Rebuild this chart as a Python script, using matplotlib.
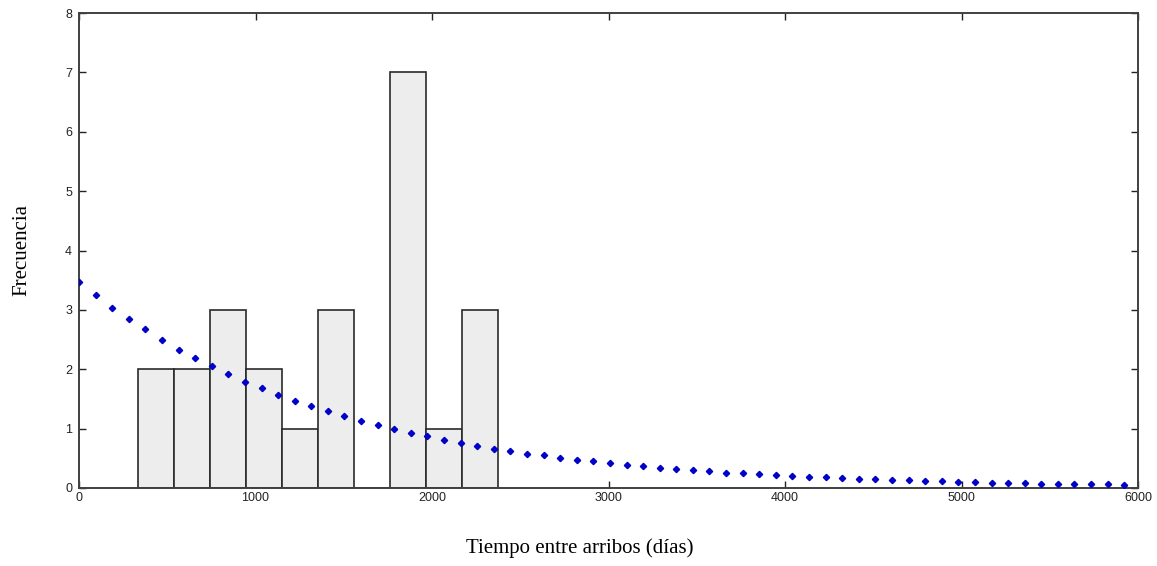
import numpy as np
import matplotlib
matplotlib.use("Agg")
import matplotlib.pyplot as plt

# Histogram data
bin_edges = [336, 540, 744, 948, 1152, 1356, 1560, 1764, 1968, 2172, 2376]
counts = [2, 2, 3, 2, 1, 3, 0, 7, 1, 3]

# Fitted curve points
curve_step = 94
curve_y = [3.47, 3.25, 3.04, 2.85, 2.67, 2.49, 2.33, 2.19, 2.05, 1.92,
           1.79, 1.68, 1.57, 1.47, 1.38, 1.29, 1.21, 1.13, 1.06, 0.99,
           0.93, 0.87, 0.81, 0.76, 0.71, 0.66, 0.62, 0.58, 0.55, 0.51,
           0.48, 0.45, 0.42, 0.39, 0.37, 0.34, 0.32, 0.30, 0.28, 0.26,
           0.25, 0.23, 0.22, 0.20, 0.19, 0.18, 0.17, 0.15, 0.15, 0.14,
           0.13, 0.12, 0.11, 0.10, 0.10, 0.09, 0.08, 0.08, 0.07, 0.07,
           0.07, 0.06, 0.06, 0.05]
curve_x = [i * curve_step for i in range(len(curve_y))]

x_ticks = [0, 1000, 2000, 3000, 4000, 5000, 6000]
y_ticks = [0, 1, 2, 3, 4, 5, 6, 7, 8]

fig = plt.figure(figsize=(11.57, 5.66), dpi=100)
ax = fig.add_axes([79/1157, 1-488/566, (1138-79)/1157, (488-13)/566])

lefts = bin_edges[:-1]
widths = [b - a for a, b in zip(bin_edges[:-1], bin_edges[1:])]
ax.bar(lefts, counts, width=widths, align='edge', color='#ededed',
       edgecolor='#2a2a2a', linewidth=1.2, zorder=2)

ax.plot(curve_x, curve_y, linestyle='none', marker='D', markersize=3.2,
        color='#0000c8', zorder=3)

ax.set_xlim(0, 6000)
ax.set_ylim(0, 8)
ax.set_xticks(x_ticks)
ax.set_yticks(y_ticks)
ax.tick_params(direction='in', length=5, width=1.0, top=True, right=True,
               labelsize=9, colors='#222222', pad=3)
ax.tick_params(axis='y', pad=5)
for lbl in ax.get_xticklabels() + ax.get_yticklabels():
    lbl.set_family('Liberation Sans')
for s in ax.spines.values():
    s.set_color('#404040')
    s.set_linewidth(1.4)

fig.text(580/1157, 1-548/566, 'Tiempo entre arribos (días)', ha='center', va='center',
         family='Liberation Serif', fontsize=15)
fig.text(22/1157, 1-250/566, 'Frecuencia', ha='center', va='center', rotation=90,
         family='Liberation Serif', fontsize=15)

fig.savefig('out.png', dpi=100)
